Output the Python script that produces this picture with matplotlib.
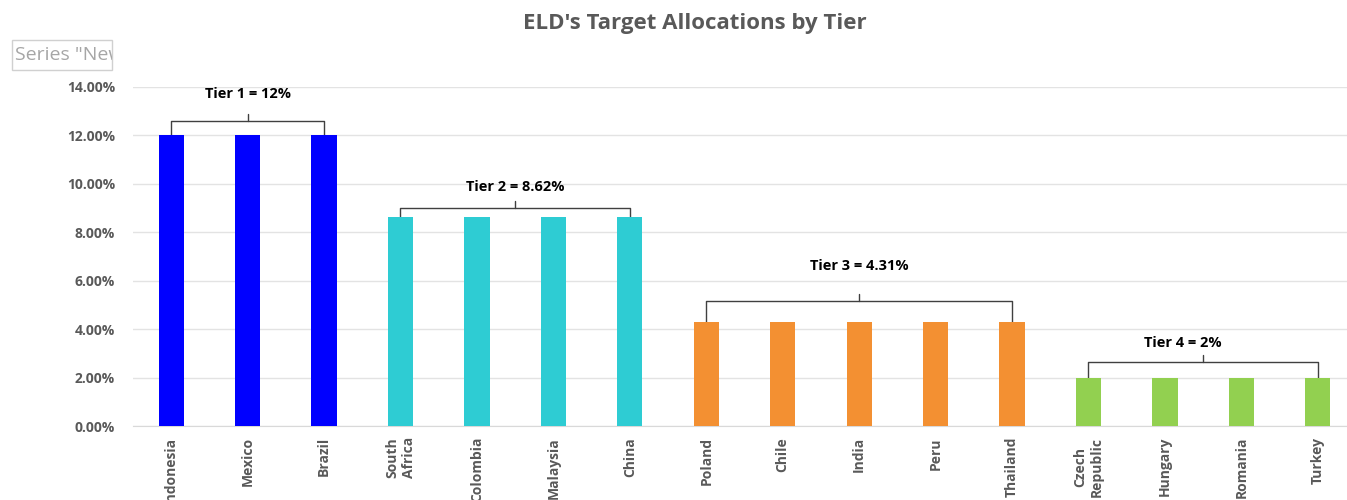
import numpy as np
import matplotlib.pyplot as plt
from matplotlib.patches import Rectangle

countries = ["Indonesia", "Mexico", "Brazil", "South\nAfrica", "Colombia", "Malaysia", "China",
             "Poland", "Chile", "India", "Peru", "Thailand",
             "Czech\nRepublic", "Hungary", "Romania", "Turkey"]
allocations = [12, 12, 12, 8.62, 8.62, 8.62, 8.62,
               4.31, 4.31, 4.31, 4.31, 4.31,
               2, 2, 2, 2]
tier_of = [0, 0, 0, 1, 1, 1, 1, 2, 2, 2, 2, 2, 3, 3, 3, 3]
tier_labels = ["Tier 1 = 12%", "Tier 2 = 8.62%", "Tier 3 = 4.31%", "Tier 4 = 2%"]
tier_colors = ["#0000FF", "#2ECCD3", "#F39032", "#92D050"]


def brace(ax, x0, x1, y_top, y_line, y_text, label, dx=0.0):
    mid = (x0 + x1) / 2
    kw = dict(color="#404040", linewidth=1.0, solid_capstyle="round")
    ax.plot([x0, x0, x1, x1], [y_top, y_line, y_line, y_top], **kw)
    ax.plot([mid, mid], [y_line, y_line + 0.3], **kw)
    ax.text(mid + dx, y_text, label, ha="center", va="center", fontsize=10.5,
            fontweight="bold", color="black")


def main():
    plt.rcParams['font.family'] = ['Open Sans', 'DejaVu Sans']
    fig = plt.figure(figsize=(13.47, 5.0), dpi=100)
    ax = fig.add_axes([0.0987, 0.148, 0.908, 0.678])

    x = np.arange(len(countries))
    colors = [tier_colors[t] for t in tier_of]
    ax.bar(x, allocations, width=0.33, color=colors, zorder=3)

    ax.set_xlim(-0.5, len(countries) - 0.5)
    ax.set_ylim(0, 14)
    ax.set_yticks(np.arange(0, 15, 2))
    ax.set_yticklabels([f"{v:.2f}%" for v in np.arange(0, 15, 2)])
    ax.set_xticks(x)
    ax.set_xticklabels(countries, rotation=90, ha="center", va="top", multialignment="center")
    ax.tick_params(axis="both", length=0, labelsize=10, labelcolor="#595959")
    ax.tick_params(axis="y", pad=13)
    ax.tick_params(axis="x", pad=8)
    for lbl in ax.get_xticklabels() + ax.get_yticklabels():
        lbl.set_fontweight("bold")

    ax.grid(axis="y", color="#E3E3E3", linewidth=1.0, zorder=0)
    for s in ["top", "right", "left"]:
        ax.spines[s].set_visible(False)
    ax.spines["bottom"].set_color("#D9D9D9")

    # braces over each tier
    brace_pos = [(12.6, 13.7, 0.0), (9.0, 9.87, 0.0), (5.16, 6.6, 0.0), (2.64, 3.43, -0.27)]
    for t, label in enumerate(tier_labels):
        idx = [i for i, tt in enumerate(tier_of) if tt == t]
        top = allocations[idx[0]]
        yl, yt, dx = brace_pos[t]
        brace(ax, idx[0], idx[-1], top, yl, yt, label, dx)

    fig.text(0.516, 0.953, "ELD's Target Allocations by Tier", ha="center", va="center",
             fontsize=16, fontweight="bold", color="#595959")

    # clipped legend-like box at top-left
    box = Rectangle((12 / 1347, 1 - 70 / 500), 100 / 1347, 30 / 500, transform=fig.transFigure,
                    facecolor="white", edgecolor="#D0D0D0", linewidth=1.0)
    fig.patches.append(box)
    t = fig.text(15 / 1347, 1 - 55 / 500, 'Series "New', ha="left", va="center",
                 fontsize=14, color="#A6A6A6")
    t.set_clip_path(box)
    t.set_clip_on(True)

    fig.savefig("out.png", dpi=100)


if __name__ == "__main__":
    main()
